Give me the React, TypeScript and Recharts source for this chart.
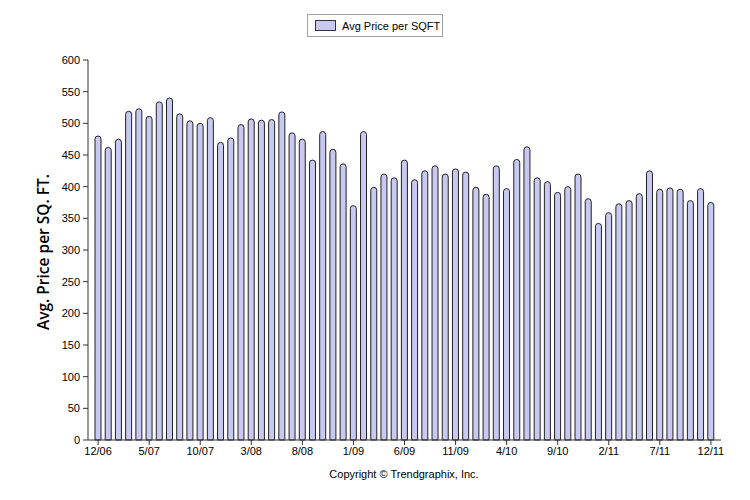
import { BarChart, Bar, XAxis, YAxis, Legend } from 'recharts';

const months = [
  '12/06', '1/07', '2/07', '3/07', '4/07', '5/07', '6/07', '7/07', '8/07', '9/07', '10/07', '11/07',
  '12/07', '1/08', '2/08', '3/08', '4/08', '5/08', '6/08', '7/08', '8/08', '9/08', '10/08', '11/08',
  '12/08', '1/09', '2/09', '3/09', '4/09', '5/09', '6/09', '7/09', '8/09', '9/09', '10/09', '11/09',
  '12/09', '1/10', '2/10', '3/10', '4/10', '5/10', '6/10', '7/10', '8/10', '9/10', '10/10', '11/10',
  '12/10', '1/11', '2/11', '3/11', '4/11', '5/11', '6/11', '7/11', '8/11', '9/11', '10/11', '11/11',
  '12/11',
];

const avgPrice = [
  480, 462, 475, 519, 523, 511, 534, 540, 515, 504, 500, 509,
  470, 477, 498, 507, 505, 506, 518, 485, 475, 442, 487, 459,
  436, 370, 487, 399, 420, 414, 442, 411, 425, 433, 420, 428,
  423, 399, 388, 433, 397, 443, 463, 414, 408, 391, 400, 420,
  381, 342, 359, 373, 378, 389, 425, 396, 398, 396, 378, 397,
  375,
];

const yTicks = [0, 50, 100, 150, 200, 250, 300, 350, 400, 450, 500, 550, 600];

const data = months.map((m, i) => ({ month: m, price: avgPrice[i] }));

const tickFont = { fontFamily: 'Liberation Sans, Arial, sans-serif', fontSize: 11, fill: '#000' };

function LegendBox() {
  return (
    <div
      style={{
        width: 134,
        height: 21,
        border: '1px solid #a0a0a0',
        display: 'flex',
        alignItems: 'center',
        fontFamily: 'Liberation Sans, Arial, sans-serif',
        fontSize: 11,
        color: '#000',
        background: '#fff',
      }}
    >
      <span
        style={{
          display: 'inline-block',
          width: 19,
          height: 9,
          marginLeft: 7,
          marginRight: 6,
          background: '#c8c8f0',
          border: '1px solid #333',
        }}
      />
      Avg Price per SQFT
    </div>
  );
}

export default function App() {
  return (
    <div style={{ position: 'absolute', left: 0, top: 0, width: 750, height: 500, background: '#fff' }}>
      <BarChart
        width={750}
        height={500}
        data={data}
        margin={{ top: 60, right: 29, bottom: 30, left: 0 }}
      >
        <XAxis
          dataKey="month"
          interval={4}
          padding={{ left: 5, right: 5 }}
          tick={tickFont}
          tickSize={5}
          tickMargin={2}
          stroke="#333"
          height={30}
          label={{
            content: () => (
              <text x={404} y={478} textAnchor="middle" style={tickFont}>
                Copyright © Trendgraphix, Inc.
              </text>
            ),
          }}
        />
        <YAxis
          domain={[0, 600]}
          ticks={yTicks}
          width={88}
          tick={tickFont}
          tickSize={5}
          tickMargin={3}
          stroke="#333"
          label={{
            content: () => (
              <text
                x={45}
                y={252}
                transform="rotate(-90 45 252)"
                textAnchor="middle"
                dominantBaseline="middle"
                style={{ fontFamily: 'Open Sans, sans-serif', fontSize: 15.5, fontWeight: 600, fill: '#000' }}
              >
                Avg. Price per SQ. FT.
              </text>
            ),
          }}
        />
        <Legend
          verticalAlign="middle"
          layout="horizontal"
          wrapperStyle={{ top: 14, left: 307, width: 136 }}
          content={() => <LegendBox />}
        />
        <Bar
          dataKey="price"
          name="Avg Price per SQFT"
          fill="#c8c8f0"
          stroke="#222"
          strokeWidth={1}
          barSize={6}
          radius={[3, 3, 0, 0]}
          isAnimationActive={false}
        />
      </BarChart>
    </div>
  );
}
